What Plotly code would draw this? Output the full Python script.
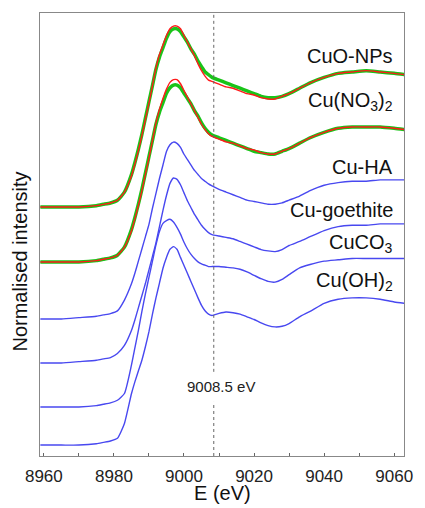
import plotly.graph_objects as go

# Energy grid (eV)
energy = [8959, 8965, 8970, 8975, 8977, 8979, 8981, 8983,
          8985, 8986, 8987, 8988, 8989, 8990, 8991, 8992, 8993, 8994, 8995, 8996,
          8997, 8998, 8999, 9000, 9001, 9002, 9003, 9004, 9005, 9006, 9007, 9008,
          9010, 9012, 9014, 9016, 9018, 9020, 9022, 9024, 9026, 9028, 9030,
          9033, 9036, 9040, 9044, 9048, 9052, 9056, 9060, 9063]

# Normalised spectra (before vertical offset)
cuo_fit = [0.00, 0.00, 0.00, 0.01, 0.02, 0.03, 0.05, 0.11,
           0.23, 0.32, 0.42, 0.53, 0.65, 0.77, 0.90, 1.03, 1.13, 1.20, 1.27, 1.32,
           1.34, 1.34, 1.32, 1.27, 1.22, 1.17, 1.12, 1.06, 1.01, 0.97, 0.94, 0.93,
           0.91, 0.89, 0.88, 0.86, 0.84, 0.83, 0.81, 0.80, 0.80, 0.82, 0.84,
           0.88, 0.92, 0.96, 0.99, 1.00, 1.01, 1.00, 0.99, 0.98]
cuo_data = [0.00, 0.00, 0.00, 0.01, 0.02, 0.03, 0.05, 0.11,
            0.24, 0.33, 0.43, 0.54, 0.66, 0.78, 0.90, 1.02, 1.11, 1.18, 1.25, 1.30,
            1.32, 1.32, 1.30, 1.26, 1.22, 1.17, 1.13, 1.08, 1.04, 1.00, 0.98, 0.96,
            0.94, 0.92, 0.90, 0.88, 0.86, 0.84, 0.82, 0.81, 0.81, 0.82, 0.84,
            0.88, 0.92, 0.96, 0.99, 1.00, 1.01, 1.00, 0.99, 0.98]
no3_fit = [0.00, 0.00, 0.00, 0.01, 0.02, 0.03, 0.05, 0.11,
           0.23, 0.32, 0.42, 0.53, 0.65, 0.77, 0.90, 1.03, 1.13, 1.21, 1.28, 1.33,
           1.35, 1.35, 1.32, 1.27, 1.22, 1.17, 1.12, 1.07, 1.02, 0.98, 0.95, 0.93,
           0.91, 0.89, 0.88, 0.86, 0.84, 0.83, 0.81, 0.80, 0.80, 0.82, 0.84,
           0.88, 0.92, 0.96, 0.99, 1.00, 1.00, 1.00, 0.99, 0.98]
no3_data = [0.00, 0.00, 0.00, 0.01, 0.02, 0.03, 0.05, 0.11,
            0.24, 0.33, 0.43, 0.54, 0.66, 0.78, 0.90, 1.02, 1.11, 1.18, 1.25, 1.29,
            1.31, 1.31, 1.29, 1.25, 1.21, 1.17, 1.12, 1.08, 1.03, 0.99, 0.96, 0.94,
            0.92, 0.90, 0.88, 0.86, 0.84, 0.82, 0.81, 0.80, 0.80, 0.82, 0.84,
            0.88, 0.92, 0.96, 0.99, 1.00, 1.00, 1.00, 0.99, 0.98]
cu_ha = [0.00, 0.00, 0.01, 0.02, 0.03, 0.04, 0.06, 0.14,
         0.26, 0.34, 0.43, 0.52, 0.61, 0.70, 0.82, 0.93, 1.04, 1.14, 1.24, 1.29,
         1.31, 1.30, 1.27, 1.22, 1.18, 1.14, 1.10, 1.07, 1.04, 1.02, 1.00, 0.985,
         0.96, 0.94, 0.92, 0.90, 0.88, 0.87, 0.86, 0.85, 0.85, 0.86, 0.88,
         0.91, 0.95, 0.99, 1.01, 1.02, 1.02, 1.03, 1.03, 1.03]
cu_goethite = [0.00, 0.00, 0.01, 0.02, 0.03, 0.04, 0.07, 0.13,
               0.24, 0.32, 0.41, 0.50, 0.59, 0.69, 0.79, 0.89, 1.01, 1.13, 1.24, 1.33,
               1.37, 1.36, 1.32, 1.26, 1.20, 1.15, 1.10, 1.06, 1.02, 0.99, 0.965, 0.95,
               0.94, 0.93, 0.92, 0.90, 0.88, 0.86, 0.84, 0.83, 0.825, 0.84, 0.87,
               0.90, 0.935, 0.98, 1.01, 1.02, 1.02, 1.03, 1.03, 1.03]
cuco3 = [0.00, 0.00, 0.00, 0.01, 0.02, 0.03, 0.05, 0.10,
         0.31, 0.44, 0.57, 0.71, 0.84, 0.96, 1.08, 1.20, 1.30, 1.36, 1.38, 1.39,
         1.37, 1.33, 1.28, 1.22, 1.17, 1.13, 1.10, 1.075, 1.06, 1.05, 1.04, 1.04,
         1.04, 1.035, 1.03, 1.02, 1.00, 0.975, 0.95, 0.93, 0.925, 0.945, 0.98,
         1.03, 1.055, 1.08, 1.09, 1.10, 1.10, 1.10, 1.10, 1.10]
cuoh2 = [0.00, 0.00, 0.00, 0.01, 0.02, 0.03, 0.05, 0.16,
         0.38, 0.47, 0.55, 0.63, 0.73, 0.84, 0.97, 1.09, 1.20, 1.31, 1.39, 1.45,
         1.47, 1.45, 1.39, 1.33, 1.27, 1.21, 1.15, 1.09, 1.035, 0.995, 0.97, 0.96,
         0.975, 0.985, 0.98, 0.97, 0.95, 0.93, 0.905, 0.885, 0.875, 0.88, 0.90,
         0.95, 0.99, 1.05, 1.08, 1.09, 1.09, 1.08, 1.06, 1.05]

# Vertical offsets of the stacked spectra
offsets = {"CuO-NPs": 1.844, "Cu(NO3)2": 1.437, "Cu-HA": 1.015,
           "Cu-goethite": 0.689, "CuCO3": 0.363, "Cu(OH)2": 0.081}

labels = ["CuO-NPs", "Cu(NO<sub>3</sub>)<sub>2</sub>", "Cu-HA",
          "Cu-goethite", "CuCO<sub>3</sub>", "Cu(OH)<sub>2</sub>"]
label_y = [2.965, 2.625, 2.141, 1.822, 1.575, 1.296]

marker_energy = 9008.5
marker_text = "9008.5 eV"
xticks = [8960, 8980, 9000, 9020, 9040, 9060]

GREEN = "#19c419"
RED = "#ff1a1a"
BLUE = "#4848f0"

def shifted(vals, off):
    return [v + off for v in vals]

fig = go.Figure()
series = [
    (cuo_data, offsets["CuO-NPs"], GREEN, 3.5),
    (cuo_fit, offsets["CuO-NPs"], RED, 1.4),
    (no3_data, offsets["Cu(NO3)2"], GREEN, 3.5),
    (no3_fit, offsets["Cu(NO3)2"], RED, 1.4),
    (cu_ha, offsets["Cu-HA"], BLUE, 1.4),
    (cu_goethite, offsets["Cu-goethite"], BLUE, 1.4),
    (cuco3, offsets["CuCO3"], BLUE, 1.4),
    (cuoh2, offsets["Cu(OH)2"], BLUE, 1.4),
]
for vals, off, col, w in series:
    fig.add_trace(go.Scatter(x=energy, y=shifted(vals, off), mode="lines",
                             line=dict(color=col, width=w, shape="spline", smoothing=0.5),
                             showlegend=False, hoverinfo="skip"))

# dotted marker line (with a gap around its label)
fig.add_shape(type="line", xref="x", yref="paper", x0=marker_energy, x1=marker_energy,
              y0=0.19, y1=1, line=dict(color="#666666", width=1, dash="dot"))
fig.add_shape(type="line", xref="x", yref="paper", x0=marker_energy, x1=marker_energy,
              y0=0, y1=0.122, line=dict(color="#666666", width=1, dash="dot"))
fig.add_annotation(x=9010.5, y=0.156, xref="x", yref="paper", text=marker_text,
                   showarrow=False, font=dict(size=15, color="#222222", family="Arial"),
                   xanchor="center", yanchor="middle")

for txt, yy in zip(labels, label_y):
    fig.add_annotation(x=9060.2, y=yy, xref="x", yref="y", text=txt, showarrow=False,
                       xanchor="right", yanchor="middle",
                       font=dict(size=20, color="#111111", family="Arial"))

# axis titles
fig.add_annotation(x=0.5, y=-0.055, xref="paper", yref="paper", text="E (eV)",
                   showarrow=False, xanchor="center", yanchor="top",
                   font=dict(size=20, color="#111111", family="Arial"))
fig.add_annotation(x=-0.018, y=0.44, xref="paper", yref="paper", text="Normalised intensity",
                   showarrow=False, textangle=-90, xanchor="right", yanchor="middle",
                   font=dict(size=20, color="#111111", family="Arial"))

fig.update_layout(
    width=425, height=508,
    margin=dict(l=40, r=13, t=13, b=52),
    plot_bgcolor="white", paper_bgcolor="white",
    font=dict(family="Arial"),
)
fig.update_xaxes(range=[8958.9, 9062.8], tickvals=xticks, ticktext=[str(t) for t in xticks],
                 ticks="inside", ticklen=3, tickcolor="#666666", ticklabelstandoff=5,
                 minor=dict(ticks="inside", dtick=10, tick0=8960, ticklen=3, tickcolor="#666666"),
                 showline=True, linecolor="#888888", linewidth=1, mirror=True,
                 showgrid=False, zeroline=False,
                 tickfont=dict(size=17, color="#222222", family="Arial"))
fig.update_yaxes(range=[0, 3.281], showticklabels=False, ticks="",
                 showline=True, linecolor="#888888", linewidth=1, mirror=True,
                 showgrid=False, zeroline=False)

fig.write_html("out.html")
